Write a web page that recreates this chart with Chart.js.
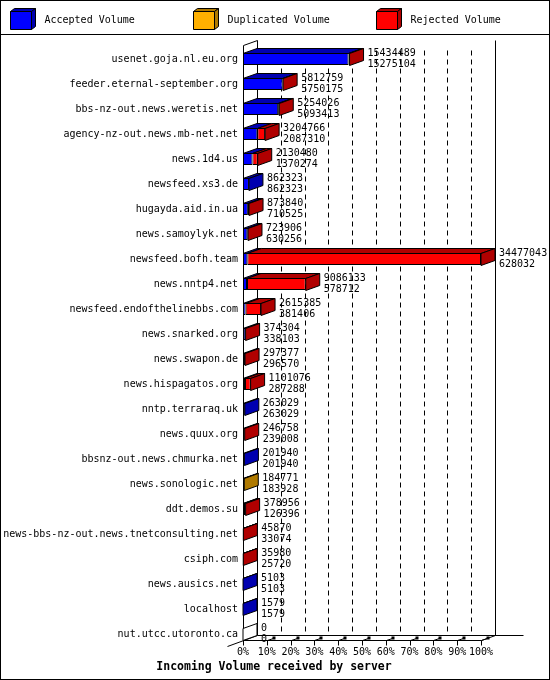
<!DOCTYPE html>
<html lang="en">
<head>
<meta charset="utf-8">
<title>Incoming Volume received by server</title>
<script src="https://cdn.jsdelivr.net/npm/chart.js@4.4.1/dist/chart.umd.min.js"></script>
<style>
  html, body { margin: 0; padding: 0; background: #fff; }
  canvas { display: block; }
</style>
</head>
<body>
<canvas id="volumeChart" width="550" height="680"></canvas>
<script>
/* ── Data ────────────────────────────────────────────────────────────────── */
const SERVERS = [
  'usenet.goja.nl.eu.org', 'feeder.eternal-september.org', 'bbs-nz-out.news.weretis.net',
  'agency-nz-out.news.mb-net.net', 'news.1d4.us', 'newsfeed.xs3.de', 'hugayda.aid.in.ua',
  'news.samoylyk.net', 'newsfeed.bofh.team', 'news.nntp4.net', 'newsfeed.endofthelinebbs.com',
  'news.snarked.org', 'news.swapon.de', 'news.hispagatos.org', 'nntp.terraraq.uk',
  'news.quux.org', 'bbsnz-out.news.chmurka.net', 'news.sonologic.net', 'ddt.demos.su',
  'news-bbs-nz-out.news.tnetconsulting.net', 'csiph.com', 'news.ausics.net', 'localhost',
  'nut.utcc.utoronto.ca'
];

const totalVolume = [
  15434489, 5812759, 5254026, 3204766, 2130480, 862323, 873840, 723906,
  34477043, 9086133, 2615385, 374304, 297377, 1101076, 263029, 246758,
  201940, 184771, 378956, 45870, 35980, 5103, 1579, 0
];
const acceptedVolume = [
  15275104, 5750175, 5093413, 2087310, 1370274, 862323, 710525, 630256,
  628032, 578712, 381406, 338103, 296570, 287288, 263029, 239008,
  201940, 183928, 126396, 33074, 25720, 5103, 1579, 0
];
const duplicatedVolume = [
  0, 0, 0, 0, 0, 0, 0, 0,
  0, 0, 0, 0, 0, 0, 0, 0,
  0, 843, 0, 0, 0, 0, 0, 0
];
const rejectedVolume = [
  159385, 62584, 160613, 1117456, 760206, 0, 163315, 93650,
  33849011, 8507421, 2233979, 36201, 807, 813788, 0, 7750,
  0, 0, 252560, 12796, 10260, 0, 0, 0
];
const TICK_PERCENT = [0, 10, 20, 30, 40, 50, 60, 70, 80, 90, 100];
const CHART_TITLE  = 'Incoming Volume received by server';

/* ── Constants ───────────────────────────────────────────────────────────── */
const MONO    = '"DejaVu Sans Mono", "Liberation Mono", monospace';
const DEPTH_X = 14;
const DEPTH_Y = 5;
const BAR_H   = 12;

const SERIES = [
  { label: 'Accepted Volume',   values: acceptedVolume,   front: '#0000ff', dark: '#0000b0' },
  { label: 'Duplicated Volume', values: duplicatedVolume, front: '#ffb000', dark: '#b07a00' },
  { label: 'Rejected Volume',   values: rejectedVolume,   front: '#ff0000', dark: '#b00000' },
];

const maxVolume = Math.max(...totalVolume);
/** Volume as a share of the busiest server, null when empty */
const pct = v => (v ? v / maxVolume * 100 : null);
const px  = v => Math.round(v) + 0.5;

/* ── Drawing helpers ─────────────────────────────────────────────────────── */
function line(ctx, x1, y1, x2, y2) {
  ctx.beginPath();
  ctx.moveTo(x1, y1);
  ctx.lineTo(x2, y2);
  ctx.stroke();
}

function poly(ctx, pts, fill) {
  ctx.beginPath();
  ctx.moveTo(pts[0][0], pts[0][1]);
  for (let k = 1; k < pts.length; k++) ctx.lineTo(pts[k][0], pts[k][1]);
  ctx.closePath();
  if (fill) { ctx.fillStyle = fill; ctx.fill(); }
  ctx.stroke();
}

/* ── Plugins ─────────────────────────────────────────────────────────────── */
// walls, floor and dashed grid behind the bars
const framePlugin = {
  id: 'frame3d',
  beforeDraw(chart) {
    const { ctx, width, height } = chart;
    ctx.save();
    ctx.fillStyle = '#fff';
    ctx.fillRect(0, 0, width, height);
    ctx.restore();
  },
  beforeDatasetsDraw(chart) {
    const { ctx, chartArea: a, scales: { x } } = chart;
    const x0       = px(x.getPixelForValue(0));
    const x100     = px(x.getPixelForValue(100));
    const floorY   = px(a.bottom - 7);
    const backY    = floorY - DEPTH_Y;
    const topBack  = px(a.top - 7);
    const topFront = topBack + DEPTH_Y;

    ctx.save();
    ctx.strokeStyle = '#000';
    ctx.lineWidth = 1;

    // dashed grid on the back plane
    ctx.setLineDash([5, 4]);
    TICK_PERCENT.slice(1, -1).forEach(t => {
      const gx = px(x.getPixelForValue(t)) + DEPTH_X;
      line(ctx, gx, topBack + 10, gx, backY);
    });
    ctx.setLineDash([]);

    // left wall
    line(ctx, x0, topFront, x0, floorY);
    line(ctx, x0 + DEPTH_X, topBack, x0 + DEPTH_X, backY);
    line(ctx, x0, topFront, x0 + DEPTH_X, topBack);

    // right wall
    line(ctx, x100 + DEPTH_X, topBack, x100 + DEPTH_X, backY);

    // floor
    line(ctx, x0, floorY, x100, floorY);
    line(ctx, x0 + DEPTH_X, backY, x100 + DEPTH_X + 28, backY);
    line(ctx, x0 - 16, floorY + 6, x0 + DEPTH_X, backY);
    line(ctx, x100, floorY, x100 + DEPTH_X, backY);

    // ticks
    TICK_PERCENT.forEach(t => {
      const tx = px(x.getPixelForValue(t));
      line(ctx, tx, floorY, tx, floorY + 5);
      if (t > 0) {
        line(ctx, tx, floorY, tx + 6, floorY - 2);
        ctx.fillStyle = '#000';
        ctx.fillRect(tx + 5, floorY - 4, 3, 3);
      }
    });
    ctx.restore();
  }
};

// top and side faces of every bar, plus the value labels
const barFacesPlugin = {
  id: 'barFaces',
  afterDatasetsDraw(chart) {
    const { ctx, scales: { x, y } } = chart;
    ctx.save();
    ctx.strokeStyle = '#000';
    ctx.lineWidth = 1;
    ctx.font = `10px ${MONO}`;
    ctx.textBaseline = 'middle';
    ctx.textAlign = 'left';

    SERVERS.forEach((name, i) => {
      const cy = y.getPixelForValue(i);
      const yt = px(cy - BAR_H / 2);
      const yb = yt + BAR_H;
      let cum = 0;
      let sideColor = '#fff';

      SERIES.forEach(s => {
        const v = pct(s.values[i]);
        if (!v) return;
        const xa = x.getPixelForValue(cum);
        const xb = x.getPixelForValue(cum + v);
        poly(ctx, [[xa, yt], [xa + DEPTH_X, yt - DEPTH_Y], [xb + DEPTH_X, yt - DEPTH_Y], [xb, yt]], s.dark);
        cum += v;
        sideColor = s.dark;
      });

      const xe = x.getPixelForValue(cum);
      poly(ctx, [[xe, yt], [xe + DEPTH_X, yt - DEPTH_Y], [xe + DEPTH_X, yb - DEPTH_Y], [xe, yb]], sideColor);

      ctx.fillStyle = '#000';
      ctx.fillText(String(totalVolume[i]),    xe + DEPTH_X + 4, cy - 6);
      ctx.fillText(String(acceptedVolume[i]), xe + DEPTH_X + 4, cy + 5);
    });
    ctx.restore();
  }
};

// boxed legend with 3D swatches, bottom title and the image frame
const legendPlugin = {
  id: 'legend3d',
  afterDraw(chart) {
    const { ctx, width, height } = chart;
    ctx.save();
    ctx.strokeStyle = '#000';
    ctx.lineWidth = 1;
    ctx.font = `10px ${MONO}`;
    ctx.textBaseline = 'middle';
    ctx.textAlign = 'left';

    SERIES.forEach((s, k) => {
      const lx = 10.5 + 183 * k;
      const ly = 11.5;
      poly(ctx, [[lx, ly], [lx + 4, ly - 3], [lx + 25, ly - 3], [lx + 21, ly]], s.dark);
      poly(ctx, [[lx + 21, ly], [lx + 25, ly - 3], [lx + 25, ly + 15], [lx + 21, ly + 18]], s.dark);
      poly(ctx, [[lx, ly], [lx + 21, ly], [lx + 21, ly + 18], [lx, ly + 18]], s.front);
      ctx.fillStyle = '#000';
      ctx.fillText(s.label, lx + 34, 20);
    });

    ctx.font = `bold 11.5px ${MONO}`;
    ctx.textAlign = 'center';
    ctx.fillText(CHART_TITLE, 274, 667);

    line(ctx, 0, 34.5, width, 34.5);
    ctx.strokeRect(0.5, 0.5, width - 1, height - 1);
    ctx.restore();
  }
};

/* ── Chart ───────────────────────────────────────────────────────────────── */
new Chart(document.getElementById('volumeChart'), {
  type: 'bar',
  data: {
    labels: SERVERS,
    datasets: SERIES.map(s => ({
      label: s.label,
      data: s.values.map(pct),
      backgroundColor: s.front,
      borderColor: '#000',
      borderWidth: 1,
      borderSkipped: false,
      barThickness: BAR_H,
      inflateAmount: 0,
    }))
  },
  options: {
    indexAxis: 'y',
    responsive: false,
    animation: false,
    layout: { padding: { top: 46.5, right: 69, bottom: 20.4, left: 0 } },
    plugins: {
      legend: { display: false },
      tooltip: { enabled: false },
      title: { display: false }
    },
    scales: {
      x: {
        stacked: true,
        min: 0,
        max: 100,
        grid: { display: false, drawTicks: false },
        border: { display: false },
        ticks: {
          stepSize: 10,
          autoSkip: false,
          maxRotation: 0,
          padding: 0,
          color: '#000',
          font: { family: MONO, size: 10 },
          callback: v => v + '%'
        },
        afterFit: s => { s.height = 13; }
      },
      y: {
        stacked: true,
        grid: { display: false, drawTicks: false },
        border: { display: false },
        ticks: {
          autoSkip: false,
          padding: 5,
          color: '#000',
          font: { family: MONO, size: 10 }
        },
        afterFit: s => { s.width = 243; }
      }
    }
  },
  plugins: [framePlugin, barFacesPlugin, legendPlugin]
});
</script>
</body>
</html>
